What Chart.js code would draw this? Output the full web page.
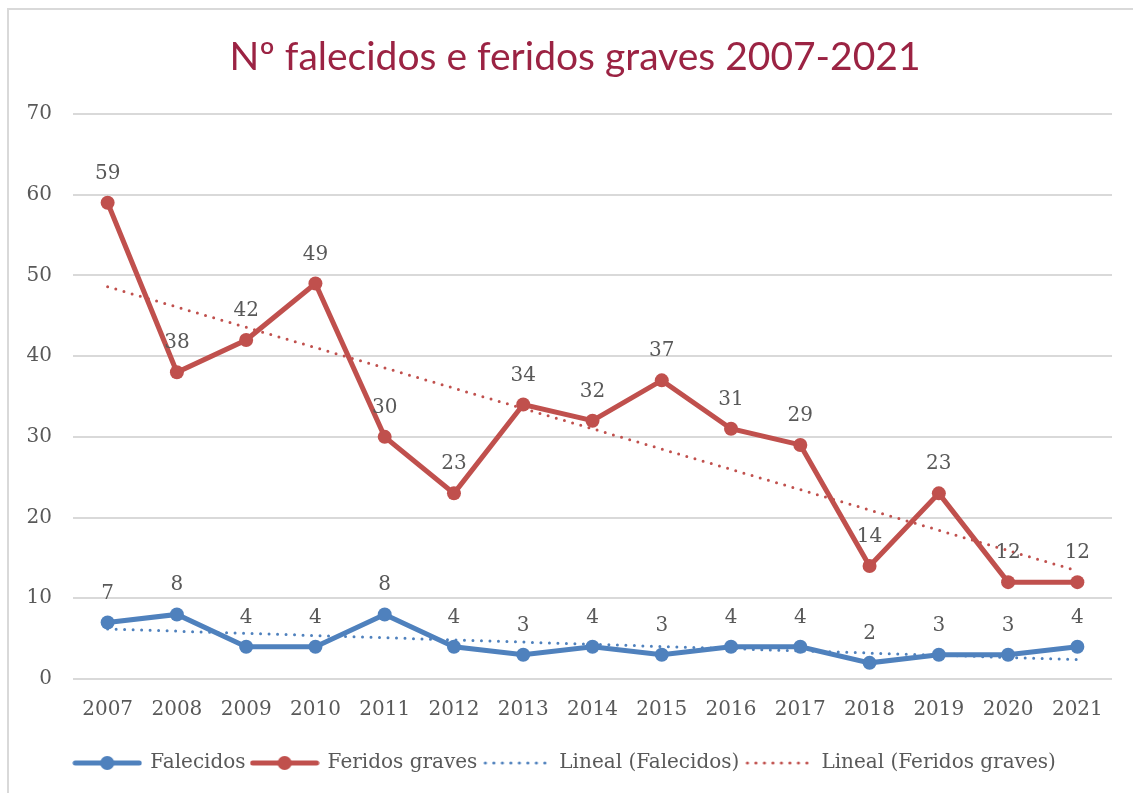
<!DOCTYPE html>
<html>
<head>
<meta charset="utf-8">
<script src="https://cdn.jsdelivr.net/npm/chart.js@4.4.1/dist/chart.umd.min.js"></script>
<style>
  html, body { margin: 0; padding: 0; background: #ffffff; }
  #wrap { position: relative; width: 1133px; height: 793px; }
  canvas { display: block; }
</style>
</head>
<body>
<div id="wrap"><canvas id="c" width="1133" height="793"></canvas></div>
<script>
// ---- data ----
const titleText = 'Nº falecidos e feridos graves 2007-2021';
const years = ['2007','2008','2009','2010','2011','2012','2013','2014','2015','2016','2017','2018','2019','2020','2021'];
const falecidos = [7, 8, 4, 4, 8, 4, 3, 4, 3, 4, 4, 2, 3, 3, 4];
const feridosGraves = [59, 38, 42, 49, 30, 23, 34, 32, 37, 31, 29, 14, 23, 12, 12];
// linear trend lines: start (2007) and end (2021) values
const trendFalecidosEnds = [6.2, 2.4];
const trendFeridosEnds = [48.6, 13.4];
const yTickValues = [0, 10, 20, 30, 40, 50, 60, 70];
const seriesNames = ['Falecidos', 'Feridos graves', 'Lineal (Falecidos)', 'Lineal (Feridos graves)'];

const BLUE = '#4F81BD';
const RED = '#C0504D';
const TEXT = '#595959';
const GRID = '#D9D9D9';
const TITLE_COLOR = '#9B2343';
const SERIF = '"DejaVu Serif", "Liberation Serif", serif';

function endsToSeries(ends, n) {
  const arr = new Array(n).fill(null);
  arr[0] = ends[0];
  arr[n - 1] = ends[1];
  return arr;
}

// legend symbol images
function lineMarkerIcon(color) {
  const c = document.createElement('canvas');
  c.width = 70; c.height = 16;
  const x = c.getContext('2d');
  x.strokeStyle = color; x.lineWidth = 5; x.lineCap = 'round';
  x.beginPath(); x.moveTo(3, 8); x.lineTo(67, 8); x.stroke();
  x.fillStyle = color;
  x.beginPath(); x.arc(35, 8, 7, 0, Math.PI * 2); x.fill();
  return c;
}
function dottedIcon(color) {
  const c = document.createElement('canvas');
  c.width = 70; c.height = 16;
  const x = c.getContext('2d');
  x.fillStyle = color;
  for (let px = 4; px <= 66; px += 8.5) {
    x.beginPath(); x.arc(px, 8, 1.6, 0, Math.PI * 2); x.fill();
  }
  return c;
}
const icons = [lineMarkerIcon(BLUE), lineMarkerIcon(RED), dottedIcon(BLUE), dottedIcon(RED)];

// data labels plugin
const dataLabels = {
  id: 'dataLabels',
  afterDatasetsDraw(chart) {
    const ctx = chart.ctx;
    ctx.save();
    ctx.font = '20px ' + SERIF;
    ctx.fillStyle = TEXT;
    ctx.textAlign = 'center';
    ctx.textBaseline = 'alphabetic';
    [0, 1].forEach(di => {
      const meta = chart.getDatasetMeta(di);
      const ds = chart.data.datasets[di];
      meta.data.forEach((pt, i) => {
        const v = ds.data[i];
        if (v == null) return;
        ctx.fillText(String(v), pt.x, pt.y - 24);
      });
    });
    ctx.restore();
  }
};

// outer border (top + left as in reference) and title
const frame = {
  id: 'frame',
  beforeDraw(chart) {
    const ctx = chart.ctx;
    ctx.save();
    ctx.fillStyle = '#ffffff';
    ctx.fillRect(0, 0, chart.width, chart.height);
    ctx.strokeStyle = GRID;
    ctx.lineWidth = 2;
    ctx.beginPath();
    ctx.moveTo(8, chart.height);
    ctx.lineTo(8, 9);
    ctx.lineTo(chart.width, 9);
    ctx.stroke();
    ctx.font = '39px Lato, "Open Sans", sans-serif';
    ctx.fillStyle = TITLE_COLOR;
    ctx.textAlign = 'center';
    ctx.textBaseline = 'middle';
    ctx.fillText(titleText, 575, 57);
    ctx.restore();
  }
};

const n = years.length;
new Chart(document.getElementById('c'), {
  type: 'line',
  data: {
    labels: years,
    datasets: [
      {
        label: seriesNames[0], data: falecidos,
        borderColor: BLUE, backgroundColor: BLUE, borderWidth: 5,
        pointRadius: 7, pointHoverRadius: 7, pointBackgroundColor: BLUE, pointBorderWidth: 0,
        tension: 0, order: 1
      },
      {
        label: seriesNames[1], data: feridosGraves,
        borderColor: RED, backgroundColor: RED, borderWidth: 5,
        pointRadius: 7, pointHoverRadius: 7, pointBackgroundColor: RED, pointBorderWidth: 0,
        tension: 0, order: 1
      },
      {
        label: seriesNames[2], data: endsToSeries(trendFalecidosEnds, n),
        borderColor: BLUE, borderWidth: 3, borderDash: [0, 8.5], borderCapStyle: 'round',
        pointRadius: 0, spanGaps: true, order: 2
      },
      {
        label: seriesNames[3], data: endsToSeries(trendFeridosEnds, n),
        borderColor: RED, borderWidth: 3, borderDash: [0, 8.5], borderCapStyle: 'round',
        pointRadius: 0, spanGaps: true, order: 2
      }
    ]
  },
  options: {
    responsive: false,
    animation: false,
    events: [],
    layout: { padding: { left: 18, right: 21, top: 114, bottom: 10 } },
    plugins: {
      tooltip: { enabled: false },
      title: { display: false },
      legend: {
        position: 'bottom',
        labels: {
          usePointStyle: true,
          pointStyleWidth: 66,
          boxHeight: 16,
          padding: 6,
          color: TEXT,
          font: { family: SERIF, size: 20 },
          generateLabels: (chart) => chart.data.datasets.map((ds, i) => ({
            text: ds.label, pointStyle: icons[i], datasetIndex: i,
            hidden: false, fontColor: TEXT, lineWidth: 0,
            strokeStyle: 'rgba(0,0,0,0)', fillStyle: 'rgba(0,0,0,0)'
          }))
        }
      }
    },
    scales: {
      x: {
        offset: true,
        grid: { display: false, drawTicks: false },
        border: { display: false },
        ticks: { color: TEXT, font: { family: SERIF, size: 20 }, padding: 19, maxRotation: 0, autoSkip: false },
        afterFit(s) { s.height = 68; }
      },
      y: {
        min: 0, max: 70,
        afterBuildTicks(s) { s.ticks = yTickValues.map(v => ({ value: v })); },
        grid: { color: GRID, lineWidth: 2, drawTicks: false },
        border: { display: false },
        ticks: { color: TEXT, font: { family: SERIF, size: 20 }, padding: 21 },
        afterFit(s) { s.width = 55; }
      }
    }
  },
  plugins: [frame, dataLabels]
});
</script>
</body>
</html>
